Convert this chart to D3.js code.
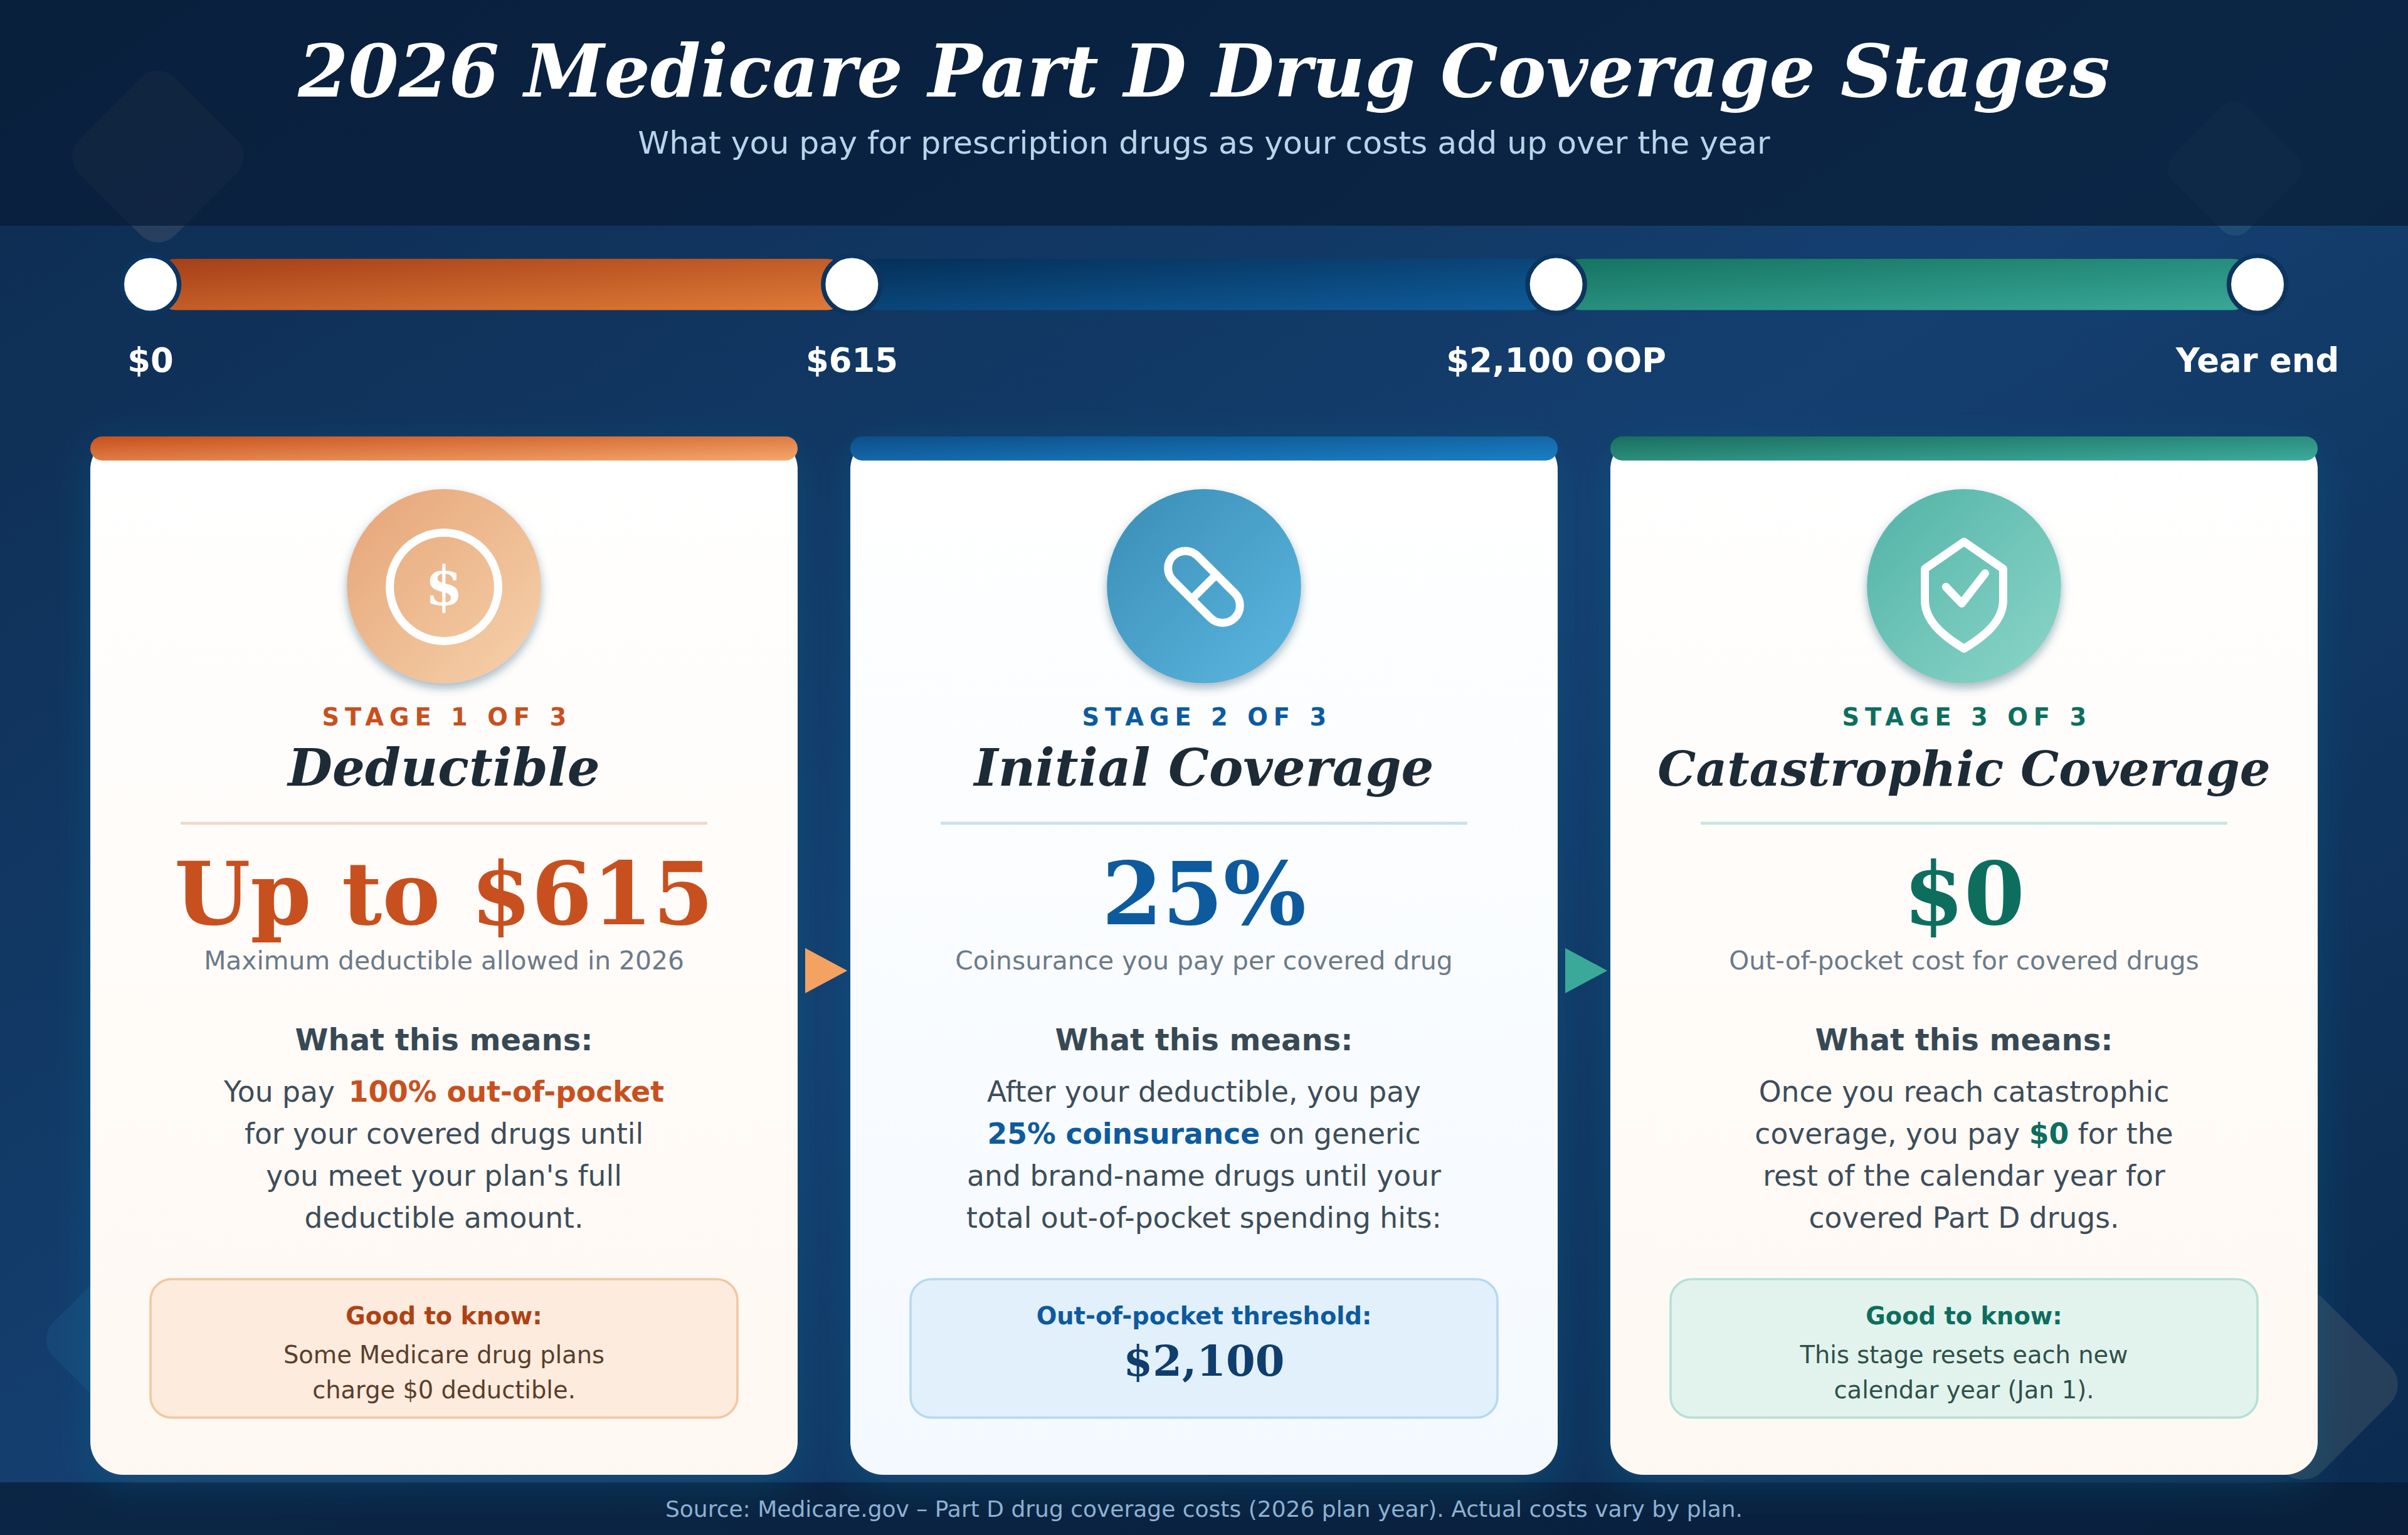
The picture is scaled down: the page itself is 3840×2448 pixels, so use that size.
<!DOCTYPE html>
<html>
<head>
<meta charset="utf-8">
<script src="https://cdn.jsdelivr.net/npm/d3@7"></script>
<style>
  html, body { margin: 0; padding: 0; background: #0d2b4f; }
  svg { display: block; }
  text { font-family: "DejaVu Sans", sans-serif; text-anchor: middle; }
  .serif { font-family: "DejaVu Serif", serif; font-weight: bold; }
</style>
</head>
<body>
<div id="chart"></div>
<script>
// chart content
const chartTitle = "2026 Medicare Part D Drug Coverage Stages";
const chartSubtitle = "What you pay for prescription drugs as your costs add up over the year";
const sourceNote = "Source: Medicare.gov \u2013 Part D drug coverage costs (2026 plan year). Actual costs vary by plan.";

const stopLabels = ["$0", "$615", "$2,100 OOP", "Year end"];
const stageIds = ["deductible", "initial", "catastrophic"];
const stageTags = ["STAGE 1 OF 3", "STAGE 2 OF 3", "STAGE 3 OF 3"];
const stageNames = ["Deductible", "Initial Coverage", "Catastrophic Coverage"];
const bigValues = ["Up to $615", "25%", "$0"];
const bigNotes = [
  "Maximum deductible allowed in 2026",
  "Coinsurance you pay per covered drug",
  "Out-of-pocket cost for covered drugs"
];
const meansHeading = "What this means:";
// each line is [plain, highlighted, plain]
const bodyLines = [
  [["You pay ", "100% out-of-pocket", ""],
   ["for your covered drugs until", "", ""],
   ["you meet your plan's full", "", ""],
   ["deductible amount.", "", ""]],
  [["After your deductible, you pay", "", ""],
   ["", "25% coinsurance", " on generic"],
   ["and brand-name drugs until your", "", ""],
   ["total out-of-pocket spending hits:", "", ""]],
  [["Once you reach catastrophic", "", ""],
   ["coverage, you pay ", "$0", " for the"],
   ["rest of the calendar year for", "", ""],
   ["covered Part D drugs.", "", ""]]
];
const boxTitles = ["Good to know:", "Out-of-pocket threshold:", "Good to know:"];
const boxLines = [
  ["Some Medicare drug plans", "charge $0 deductible."],
  [],
  ["This stage resets each new", "calendar year (Jan 1)."]
];
const boxFigures = ["", "$2,100", ""];

// colours per stage
const accent = ["#c8501e", "#0d5a9e", "#0d6e5e"];
const barFrom = ["#a53f17", "#052f58", "#157361"];
const barTo = ["#e07b39", "#0f5c9a", "#3aa898"];
const topFrom = ["#c8501e", "#0d4f8a", "#1a6f5f"];
const topTo = ["#f4a76b", "#1a7fc4", "#3dab9b"];
const iconFrom = ["#e6a477", "#3a8db5", "#52b2a6"];
const iconTo = ["#f6d2ac", "#5bb7e0", "#8cd6ca"];
const cardEnd = ["#fff8f2", "#f4f9ff", "#fff8f2"];
const ruleColor = ["#f0d9c8", "#c9e0ef", "#c8e6e0"];
const boxFill = ["#fdebdd", "#e2f0fb", "#e2f3ee"];
const boxStroke = ["#f0c8a0", "#b5d9ef", "#b5e0d5"];
const boxTitleColor = ["#ad4216", "#0d5a9e", "#0d6e5e"];
const boxTextColor = ["#5a3e2b", "#0f3d6e", "#2f5048"];
const arrowColor = ["#f4a261", "#3aa99a"];

const width = 1600, height = 1020;

const svg = d3.select("#chart").append("svg")
  .attr("width", 3840)
  .attr("height", 2448)
  .attr("viewBox", `0 0 ${width} ${height}`);

const defs = svg.append("defs");

// diagonal gradient helper
function addGradient(id, from, to) {
  const g = defs.append("linearGradient").attr("id", id)
    .attr("x1", 0).attr("y1", 0).attr("x2", 1).attr("y2", 1);
  g.append("stop").attr("offset", "0%").attr("stop-color", from);
  g.append("stop").attr("offset", "100%").attr("stop-color", to);
}

const bgGrad = defs.append("linearGradient").attr("id", "bg")
  .attr("x1", 0).attr("y1", 0).attr("x2", 1).attr("y2", 1);
bgGrad.append("stop").attr("offset", "0%").attr("stop-color", "#0d2b4f");
bgGrad.append("stop").attr("offset", "50%").attr("stop-color", "#143f6f");
bgGrad.append("stop").attr("offset", "100%").attr("stop-color", "#0b2a4e");

stageIds.forEach((id, i) => {
  addGradient("bar-" + id, barFrom[i], barTo[i]);
  addGradient("top-" + id, topFrom[i], topTo[i]);
  addGradient("icon-" + id, iconFrom[i], iconTo[i]);
  const c = defs.append("linearGradient").attr("id", "card-" + id)
    .attr("x1", 0).attr("y1", 0).attr("x2", 0).attr("y2", 1);
  c.append("stop").attr("offset", "0%").attr("stop-color", "#ffffff");
  c.append("stop").attr("offset", "100%").attr("stop-color", cardEnd[i]);
});

const cardShadow = defs.append("filter").attr("id", "cardShadow")
  .attr("x", "-10%").attr("y", "-10%").attr("width", "120%").attr("height", "120%");
cardShadow.append("feDropShadow").attr("dx", 0).attr("dy", 6).attr("stdDeviation", 12)
  .attr("flood-color", "#1f6f96").attr("flood-opacity", 0.33);

const iconShadow = defs.append("filter").attr("id", "iconShadow")
  .attr("x", "-30%").attr("y", "-30%").attr("width", "160%").attr("height", "160%");
iconShadow.append("feDropShadow").attr("dx", 0).attr("dy", 3).attr("stdDeviation", 3)
  .attr("flood-color", "#1a4a66").attr("flood-opacity", 0.4);

// background
svg.append("rect").attr("width", width).attr("height", height).attr("fill", "url(#bg)");

// faint rounded diamonds behind everything
const diamonds = [
  { x: 105, y: 104, s: 90, r: 16, fill: "#f2c9a0", o: 0.11 },
  { x: 1485, y: 112, s: 70, r: 12, fill: "#7fd4c0", o: 0.1 },
  { x: 92, y: 890, s: 96, r: 16, fill: "#2a7fb5", o: 0.16 },
  { x: 1530, y: 920, s: 100, r: 18, fill: "#f2d9a8", o: 0.115 }
];
svg.append("g").selectAll("rect").data(diamonds).join("rect")
  .attr("x", d => -d.s / 2)
  .attr("y", d => -d.s / 2)
  .attr("width", d => d.s)
  .attr("height", d => d.s)
  .attr("rx", d => d.r)
  .attr("fill", d => d.fill)
  .attr("opacity", d => d.o)
  .attr("transform", d => `translate(${d.x},${d.y}) rotate(45)`);

// header and footer bands
svg.append("rect").attr("width", width).attr("height", 150).attr("fill", "#081c36").attr("opacity", 0.72);
svg.append("rect").attr("y", 985).attr("width", width).attr("height", 35).attr("fill", "#081c36").attr("opacity", 0.72);

svg.append("text").attr("class", "serif")
  .attr("x", 800).attr("y", 64)
  .attr("font-size", 48).attr("font-style", "italic")
  .attr("fill", "#ffffff").text(chartTitle);
svg.append("text")
  .attr("x", 800).attr("y", 102)
  .attr("font-size", 21)
  .attr("fill", "#b8d4ea").text(chartSubtitle);
svg.append("text")
  .attr("x", 800).attr("y", 1008)
  .attr("font-size", 15).attr("fill", "#8fb3d4").text(sourceNote);

// progress track
const xStop = d3.scaleOrdinal().domain(stopLabels).range([100, 566, 1034, 1500]);

svg.append("g").selectAll("rect")
  .data(stageIds)
  .join("rect")
  .attr("x", (d, i) => xStop(stopLabels[i]))
  .attr("y", 172)
  .attr("width", (d, i) => xStop(stopLabels[i + 1]) - xStop(stopLabels[i]))
  .attr("height", 34)
  .attr("rx", 17)
  .attr("fill", d => `url(#bar-${d})`);

svg.append("g").selectAll("circle")
  .data(stopLabels)
  .join("circle")
  .attr("cx", d => xStop(d))
  .attr("cy", 189)
  .attr("r", 19)
  .attr("fill", "#ffffff")
  .attr("stroke", "#0b355f")
  .attr("stroke-width", 3);

svg.append("g").selectAll("text")
  .data(stopLabels)
  .join("text")
  .attr("x", d => xStop(d))
  .attr("y", 247)
  .attr("font-size", 22)
  .attr("font-weight", "bold")
  .attr("fill", "#ffffff")
  .text(d => d);

// stage cards
const xCard = d3.scaleBand().domain(stageIds).range([60, 1540]).paddingInner(35 / 505);

const cards = svg.append("g").selectAll("g")
  .data(stageIds)
  .join("g")
  .attr("transform", d => `translate(${xCard(d)},290)`);

const cardW = xCard.bandwidth(), mid = cardW / 2;

cards.append("rect")
  .attr("width", cardW).attr("height", 690).attr("rx", 22)
  .attr("fill", d => `url(#card-${d})`)
  .attr("filter", "url(#cardShadow)");
cards.append("rect")
  .attr("width", cardW).attr("height", 16).attr("rx", 8)
  .attr("fill", d => `url(#top-${d})`);

cards.append("circle")
  .attr("cx", mid).attr("cy", 99.5).attr("r", 64.5)
  .attr("fill", d => `url(#icon-${d})`)
  .attr("filter", "url(#iconShadow)");

// icons, drawn around the middle of each circle
const icons = cards.append("g").attr("transform", `translate(${mid},100)`)
  .attr("fill", "none").attr("stroke", "#ffffff").attr("stroke-width", 5.4)
  .attr("stroke-linejoin", "round").attr("stroke-linecap", "round");

const coin = icons.filter((d, i) => i === 0);
coin.append("circle").attr("r", 36);
coin.append("text").attr("class", "serif")
  .attr("y", 12).attr("font-size", 36)
  .attr("fill", "#ffffff").attr("stroke", "none").text("$");

const pill = icons.filter((d, i) => i === 1).append("g").attr("transform", "rotate(45)");
pill.append("rect").attr("x", -29).attr("y", -11.5).attr("width", 58).attr("height", 23).attr("rx", 11.5);
pill.append("line").attr("y1", -11.5).attr("y2", 11.5);

const shield = icons.filter((d, i) => i === 2);
shield.append("path").attr("d", "M0,-30 L26,-12 L26,9 C26,22 15,32 0,41 C-15,32 -26,22 -26,9 L-26,-12 Z");
shield.append("path").attr("d", "M-12,0 L-1.5,11 L14,-9");

cards.append("text")
  .attr("x", mid + 2).attr("y", 192)
  .attr("font-size", 16).attr("font-weight", "bold").attr("letter-spacing", 3.75)
  .attr("fill", (d, i) => accent[i])
  .text((d, i) => stageTags[i]);

cards.append("text").attr("class", "serif")
  .attr("x", mid).attr("y", 232)
  .attr("font-size", (d, i) => i === 2 ? 32 : 34).attr("font-style", "italic")
  .attr("fill", "#1c2b36")
  .text((d, i) => stageNames[i]);

cards.append("line")
  .attr("x1", mid - 175).attr("x2", mid + 175)
  .attr("y1", 257).attr("y2", 257)
  .attr("stroke", (d, i) => ruleColor[i]).attr("stroke-width", 2);

cards.append("text").attr("class", "serif")
  .attr("x", mid).attr("y", 324)
  .attr("font-size", 58)
  .attr("fill", (d, i) => accent[i])
  .text((d, i) => bigValues[i]);

cards.append("text")
  .attr("x", mid).attr("y", 354)
  .attr("font-size", 17).attr("fill", "#6c7a89")
  .text((d, i) => bigNotes[i]);

cards.append("text")
  .attr("x", mid).attr("y", 408)
  .attr("font-size", 20).attr("font-weight", "bold").attr("fill", "#374955")
  .text(meansHeading);

// body copy with an inline highlighted phrase
cards.each(function (d, i) {
  const lines = d3.select(this).append("g").selectAll("text")
    .data(bodyLines[i])
    .join("text")
    .attr("x", mid)
    .attr("y", (l, j) => 442 + j * 28)
    .attr("font-size", 19)
    .attr("fill", "#3d4d5a");
  lines.append("tspan").text(l => l[0]);
  lines.append("tspan")
    .attr("dx", (l, j) => (i === 0 && j === 0) ? 3 : 0)
    .attr("font-weight", "bold").attr("fill", accent[i]).text(l => l[1]);
  lines.append("tspan").text(l => l[2]);
});

// callout boxes
cards.append("rect")
  .attr("x", 40).attr("y", 560).attr("width", 390).attr("height", 92).attr("rx", 14)
  .attr("fill", (d, i) => boxFill[i])
  .attr("stroke", (d, i) => boxStroke[i]).attr("stroke-width", 1.5);

cards.append("text")
  .attr("x", mid).attr("y", 590)
  .attr("font-size", 16).attr("font-weight", "bold")
  .attr("fill", (d, i) => boxTitleColor[i])
  .text((d, i) => boxTitles[i]);

cards.each(function (d, i) {
  d3.select(this).append("g").selectAll("text")
    .data(boxLines[i])
    .join("text")
    .attr("x", mid)
    .attr("y", (l, j) => 616 + j * 23)
    .attr("font-size", 16)
    .attr("fill", boxTextColor[i])
    .text(l => l);
});

cards.append("text").attr("class", "serif")
  .attr("x", mid).attr("y", 624)
  .attr("font-size", 28)
  .attr("fill", (d, i) => boxTextColor[i])
  .text((d, i) => boxFigures[i]);

// arrows between the cards
svg.append("g").selectAll("path")
  .data(stageIds.slice(0, 2))
  .join("path")
  .attr("transform", d => `translate(${xCard(d) + cardW + 5},645)`)
  .attr("d", "M0,-15 L28,0 L0,15 Z")
  .attr("fill", (d, i) => arrowColor[i]);
</script>
</body>
</html>
